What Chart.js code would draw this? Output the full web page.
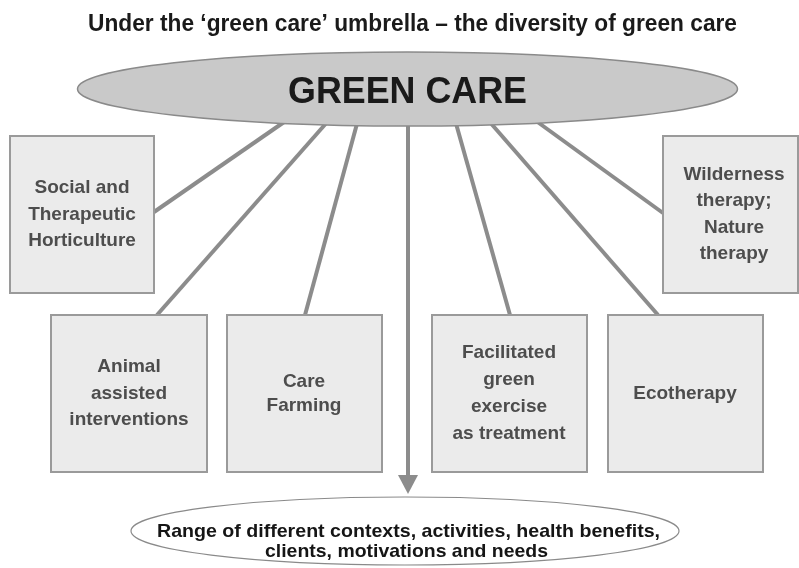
<!DOCTYPE html>
<html><head><meta charset="utf-8">
<script src="https://cdn.jsdelivr.net/npm/chart.js@4/dist/chart.umd.min.js"></script>
<style>html,body{margin:0;padding:0;background:#fff;overflow:hidden}#wrap{width:799px;height:568px}</style>
</head><body><div id="wrap"><canvas id="c" width="799" height="568"></canvas></div>
<script>
// ---- content ----
const chartTitle = "Under the \u2018green care\u2019 umbrella \u2013 the diversity of green care";
const hubLabel = "GREEN CARE";
const categories = [
  ["Social and", "Therapeutic", "Horticulture"],
  ["Animal", "assisted", "interventions"],
  ["Care", "Farming"],
  ["Facilitated", "green", "exercise", "as treatment"],
  ["Ecotherapy"],
  ["Wilderness", "therapy;", "Nature", "therapy"]
];
const outcomeLabel = ["Range of different contexts, activities, health benefits,", "clients, motivations and needs"];

// ---- layout (diagram coordinate space) ----
const boxLayout = [
  {x0: 10,  x1: 154, y0: 136, y1: 293, tx: 82,  lh: 26.5, from: [287, 120], to: [154, 212]},
  {x0: 51,  x1: 207, y0: 315, y1: 472, tx: 129, lh: 26.5, from: [329, 120], to: [157, 315]},
  {x0: 227, x1: 382, y0: 315, y1: 472, tx: 304, lh: 24,   from: [358, 120], to: [305, 315]},
  {x0: 432, x1: 587, y0: 315, y1: 472, tx: 509, lh: 27,   from: [455, 120], to: [510, 315]},
  {x0: 608, x1: 763, y0: 315, y1: 472, tx: 685, lh: 26.5, from: [488, 120], to: [658, 315]},
  {x0: 663, x1: 798, y0: 136, y1: 293, tx: 734, lh: 26.5, from: [532, 118], to: [663, 213]}
];
const hubLayout = {cx: 407.5, cy: 89, rx: 330, ry: 37, textX: 407.5, baseline: 103, size: 37, fit: 239};
const outcomeLayout = {cx: 405, cy: 531, rx: 274, ry: 34, lines: [
  {x: 408.5, baseline: 537, fit: 503},
  {x: 406.5, baseline: 557, fit: 283}
], size: 18.5};
const arrowLayout = {x: 408, y0: 120, y1: 494, headLen: 19, headHalf: 10};
const titleLayout = {x: 412.5, baseline: 31, size: 24, fit: 649};

const FONT = '"Liberation Sans", Arial, Helvetica, sans-serif';

const diagramPlugin = {
  id: 'diagram',
  afterDatasetsDraw(chart) {
    const ctx = chart.ctx;
    const sx = chart.scales.x, sy = chart.scales.y;
    const px = v => sx.getPixelForValue(v);
    const py = v => sy.getPixelForValue(v);
    const fitText = (txt, x, y, size, fit, color) => {
      ctx.save();
      ctx.font = 'bold ' + size + 'px ' + FONT;
      ctx.fillStyle = color;
      ctx.textBaseline = 'alphabetic';
      ctx.textAlign = 'center';
      const w = ctx.measureText(txt).width;
      const s = fit ? (px(fit) - px(0)) / w : 1;
      ctx.translate(px(x), py(y));
      ctx.scale(s, 1);
      ctx.fillText(txt, 0, 0);
      ctx.restore();
    };
    const ellipse = (L, fill, stroke, lw) => {
      ctx.save();
      ctx.beginPath();
      ctx.ellipse(px(L.cx), py(L.cy), px(L.cx + L.rx) - px(L.cx), Math.abs(py(L.cy + L.ry) - py(L.cy)), 0, 0, Math.PI * 2);
      ctx.fillStyle = fill; ctx.fill();
      ctx.lineWidth = lw; ctx.strokeStyle = stroke; ctx.stroke();
      ctx.restore();
    };

    // connectors
    ctx.save();
    ctx.strokeStyle = '#8c8c8c';
    ctx.lineWidth = 4;
    ctx.lineCap = 'butt';
    boxLayout.forEach(b => {
      ctx.beginPath();
      ctx.moveTo(px(b.from[0]), py(b.from[1]));
      ctx.lineTo(px(b.to[0]), py(b.to[1]));
      ctx.stroke();
    });
    // arrow
    const A = arrowLayout;
    ctx.beginPath();
    ctx.moveTo(px(A.x), py(A.y0));
    ctx.lineTo(px(A.x), py(A.y1 - A.headLen + 1));
    ctx.stroke();
    ctx.beginPath();
    ctx.moveTo(px(A.x - A.headHalf), py(A.y1 - A.headLen));
    ctx.lineTo(px(A.x + A.headHalf), py(A.y1 - A.headLen));
    ctx.lineTo(px(A.x), py(A.y1));
    ctx.closePath();
    ctx.fillStyle = '#8c8c8c';
    ctx.fill();
    ctx.restore();

    // hub ellipse
    ellipse(hubLayout, '#c9c9c9', '#8a8a8a', 1.5);
    fitText(hubLabel, hubLayout.textX, hubLayout.baseline, hubLayout.size, hubLayout.fit, '#1a1a1a');

    // boxes
    boxLayout.forEach((b, i) => {
      ctx.save();
      const x0 = px(b.x0), x1 = px(b.x1), y0 = py(b.y0), y1 = py(b.y1);
      ctx.fillStyle = '#ebebeb';
      ctx.fillRect(x0, y0, x1 - x0, y1 - y0);
      ctx.strokeStyle = '#9a9a9a';
      ctx.lineWidth = 2;
      ctx.strokeRect(x0, y0, x1 - x0, y1 - y0);
      const lines = categories[i];
      const cy = (b.y0 + b.y1) / 2;
      const startY = cy - (lines.length - 1) * b.lh / 2;
      ctx.font = 'bold 19px ' + FONT;
      ctx.fillStyle = '#4d4d4d';
      ctx.textAlign = 'center';
      ctx.textBaseline = 'middle';
      lines.forEach((t, k) => ctx.fillText(t, px(b.tx), py(startY + k * b.lh)));
      ctx.restore();
    });

    // outcome ellipse
    ellipse(outcomeLayout, '#ffffff', '#8a8a8a', 1.2);
    outcomeLabel.forEach((t, k) => {
      const L = outcomeLayout.lines[k];
      fitText(t, L.x, L.baseline, outcomeLayout.size, L.fit, '#151515');
    });

    // title
    fitText(chartTitle, titleLayout.x, titleLayout.baseline, titleLayout.size, titleLayout.fit, '#1a1a1a');
  }
};

new Chart(document.getElementById('c'), {
  type: 'scatter',
  data: {
    datasets: [{
      label: 'categories',
      data: boxLayout.map(b => ({x: b.tx, y: (b.y0 + b.y1) / 2})),
      pointRadius: 0,
      showLine: false
    }]
  },
  options: {
    responsive: false,
    animation: false,
    devicePixelRatio: 1,
    layout: {padding: 0},
    events: [],
    plugins: {legend: {display: false}, tooltip: {enabled: false}, title: {display: false}},
    scales: {
      x: {type: 'linear', min: 0, max: 799, display: false},
      y: {type: 'linear', min: 0, max: 568, reverse: true, display: false}
    }
  },
  plugins: [diagramPlugin]
});
</script>
</body></html>
